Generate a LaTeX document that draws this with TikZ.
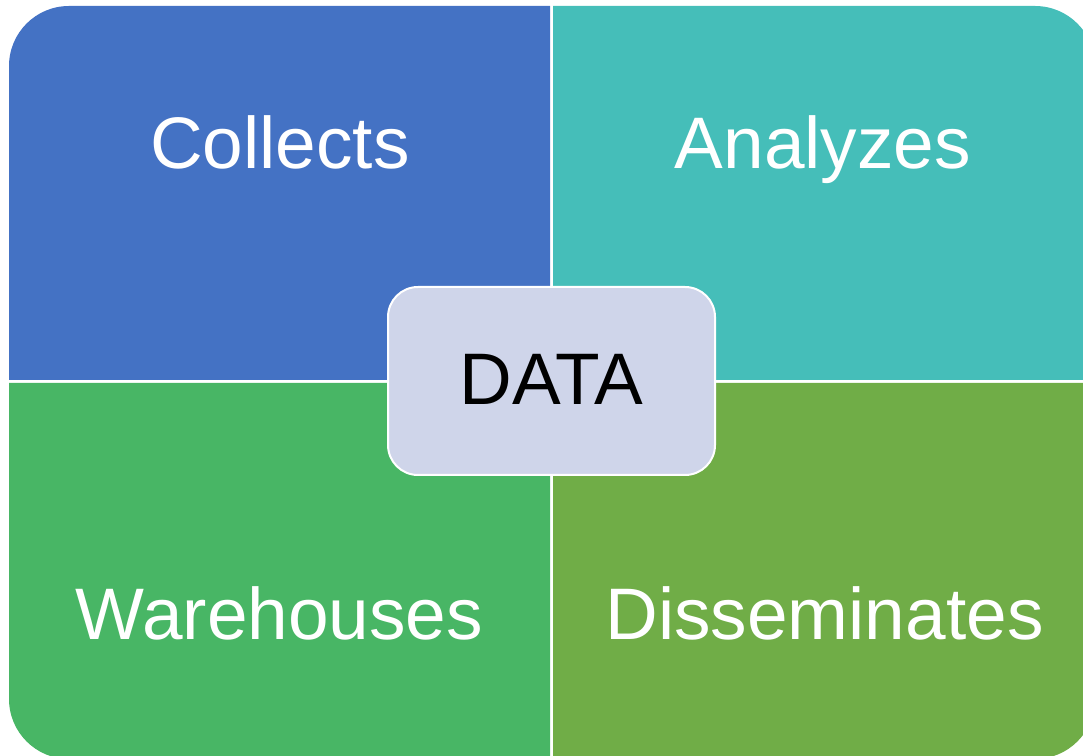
\documentclass[tikz,border=0pt]{standalone}
\usepackage{fontspec}
\setmainfont{Liberation Sans}
\definecolor{qblue}{HTML}{4472C4}
\definecolor{qteal}{HTML}{45BEB9}
\definecolor{qgreen}{HTML}{48B665}
\definecolor{qolive}{HTML}{70AD47}
\definecolor{qcenter}{HTML}{CFD5EA}
\tikzset{
  quadlabel/.style={anchor=base, text=white, inner sep=0pt, font=\fontsize{73}{80}\selectfont},
  hubbox/.style={draw=white, line width=2pt, fill=qcenter, rounded corners=30pt,
    minimum width=327pt, minimum height=188pt, inner sep=0pt,
    text height=48pt, text depth=0pt, font=\fontsize{73}{80}\selectfont}
}
\begin{document}
\begin{tikzpicture}[x=1pt,y=1pt]
\useasboundingbox (0,0) rectangle (1083,755);
\begin{scope}
\clip (0,0) rectangle (1083,755);
% top-left
\fill[qblue] (550,375) -- (9,375) -- (9,689) arc[start angle=180, end angle=90, radius=60pt] -- (550,749) -- cycle;
% top-right
\fill[qteal] (553,375) -- (553,749) -- (1035,749) arc[start angle=90, end angle=0, radius=60pt] -- (1095,375) -- cycle;
% bottom-left
\fill[qgreen] (550,372) -- (9,372) -- (9,56) arc[start angle=180, end angle=270, radius=60pt] -- (550,-4) -- cycle;
% bottom-right
\fill[qolive] (553,372) -- (553,-4) -- (1035,-4) arc[start angle=270, end angle=360, radius=60pt] -- (1095,372) -- cycle;
\end{scope}
\node[quadlabel] (collects) at (280,586) {Collects};
\node[quadlabel] (analyzes) at (823,586) {Analyzes};
\node[quadlabel] (warehouses) at (279.5,116) {Warehouses};
\node[quadlabel] (disseminates) at (824.5,116) {Disseminates};
\node[hubbox] (data) at (551.5,374) {DATA};
\end{tikzpicture}
\end{document}
